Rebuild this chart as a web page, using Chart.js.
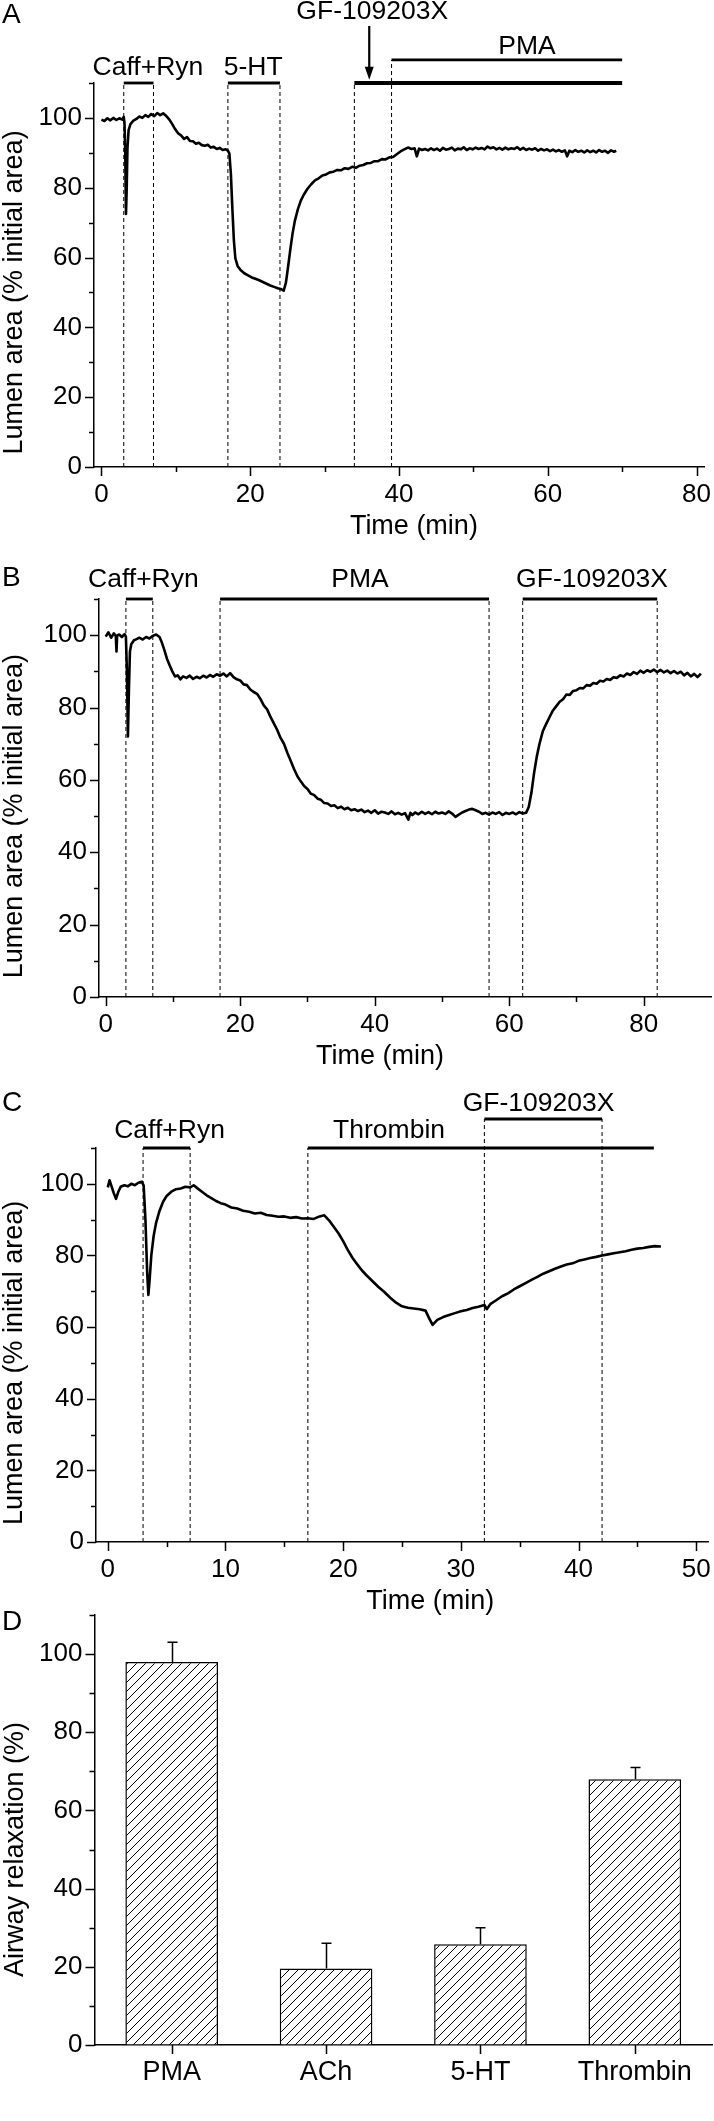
<!DOCTYPE html>
<html><head><meta charset="utf-8">
<script src="https://cdn.jsdelivr.net/npm/chart.js@4.4.1/dist/chart.umd.min.js"></script>
<style>
html,body{margin:0;padding:0;background:#fff;}
#wrap{position:relative;width:714px;height:2121px;overflow:hidden;background:#fff;}
canvas{position:absolute;left:0;top:0;}
</style></head><body>
<div id="wrap">
<canvas id="cA" width="714" height="2121"></canvas>
<canvas id="cB" width="714" height="2121"></canvas>
<canvas id="cC" width="714" height="2121"></canvas>
<canvas id="cD" width="714" height="2121"></canvas>
</div>
<script>
// ---------------- DATA ----------------
// Panel A trace: [time (min), lumen area (% initial)]
const traceA = [[0,99.5],[0.4,99.1],[0.8,99.9],[1.2,99.3],[1.6,100.0],[2.0,99.4],[2.4,99.9],[2.8,99.5],[3.0,100.3],[3.1,98.5],[3.2,90],[3.3,72.5],[3.4,80],[3.5,91.5],[3.65,96.5],[3.9,98.2],[4.3,99.2],[4.7,99.7],[5.1,100.4],[5.5,100.0],[5.9,100.8],[6.3,100.3],[6.7,101.1],[7.1,100.5],[7.5,101.4],[7.9,100.8],[8.3,101.3],[8.7,100.6],[9.1,99.6],[9.5,98.3],[9.9,96.8],[10.3,95.6],[10.7,95.0],[11.1,94.0],[11.5,94.5],[11.9,93.4],[12.3,93.3],[12.7,92.6],[13.1,92.9],[13.5,92.2],[13.9,92.0],[14.3,92.3],[14.7,91.5],[15.1,91.7],[15.5,91.1],[15.9,91.4],[16.3,90.8],[16.7,91.0],[17.0,90.6],[17.2,89.8],[17.4,84],[17.6,74],[17.8,65],[18.0,59.8],[18.3,57.6],[18.7,56.4],[19.2,55.5],[19.7,54.9],[20.2,54.3],[20.7,53.9],[21.2,53.5],[21.7,53.0],[22.2,52.5],[22.7,52.0],[23.2,51.6],[23.7,51.2],[24.2,50.9],[24.5,50.5],[24.8,52.8],[25.1,57.5],[25.4,62.5],[25.7,67],[26.0,70.5],[26.4,73.8],[26.8,76.3],[27.2,78.0],[27.7,79.7],[28.2,81.0],[28.7,82.1],[29.2,82.7],[29.7,83.5],[30.2,83.8],[30.7,84.4],[31.2,84.6],[31.7,85.1],[32.2,85.0],[32.7,85.6],[33.2,85.4],[33.7,86.0],[34.2,85.7],[34.7,86.3],[35.2,86.5],[35.7,87.0],[36.2,87.1],[36.7,87.6],[37.2,87.6],[37.7,88.2],[38.2,88.1],[38.7,88.7],[39.2,88.8],[39.7,89.6],[40.2,90.4],[40.7,91.0],[41.2,91.5],[41.7,91.1],[42.1,91.3],[42.4,89.0],[42.7,91.2],[43.1,90.8],[43.5,91.1],[43.9,90.7],[44.3,91.3],[44.7,90.8],[45.1,91.2],[45.5,90.6],[45.9,91.4],[46.3,90.9],[46.7,91.1],[47.1,91.5],[47.5,90.7],[47.9,91.2],[48.3,91.0],[48.7,91.6],[49.1,90.8],[49.5,91.3],[49.9,91.0],[50.3,91.5],[50.7,91.1],[51.1,91.4],[51.5,91.0],[51.9,91.8],[52.3,91.3],[52.7,91.6],[53.1,91.0],[53.5,91.4],[53.9,90.9],[54.3,91.5],[54.7,91.0],[55.1,91.3],[55.5,91.1],[55.9,91.6],[56.3,90.9],[56.7,91.4],[57.1,90.8],[57.5,91.2],[57.9,90.9],[58.3,91.3],[58.7,90.6],[59.1,91.1],[59.5,90.7],[59.9,91.0],[60.3,90.5],[60.7,90.9],[61.1,90.4],[61.5,90.8],[61.9,90.3],[62.3,90.7],[62.6,89.0],[62.9,90.6],[63.3,90.2],[63.7,90.8],[64.1,90.3],[64.5,90.6],[64.9,90.1],[65.3,90.7],[65.7,90.2],[66.1,90.6],[66.5,90.1],[66.9,90.8],[67.3,90.3],[67.7,90.6],[68.1,90.0],[68.5,90.7],[68.9,90.3],[69.2,90.6]];

// Panel B trace
const traceB = [[0,99.6],[0.4,100.8],[0.8,99.3],[1.2,100.5],[1.5,99.8],[1.6,95.5],[1.7,99.9],[2.0,100.2],[2.4,99.5],[2.8,100.3],[3.0,99.6],[3.15,90],[3.3,72],[3.45,85],[3.6,95.5],[3.8,97.5],[4.2,98.6],[4.6,98.9],[5.0,99.3],[5.5,98.8],[6.0,99.5],[6.5,99.1],[7.0,99.8],[7.5,100.2],[8.0,99.5],[8.3,98.2],[8.7,96],[9.1,93.5],[9.5,91.7],[9.9,90.0],[10.3,88.6],[10.7,88.9],[11.1,87.8],[11.5,88.6],[12.0,88.2],[12.5,88.8],[13.0,87.9],[13.5,88.5],[14.0,88.1],[14.5,88.8],[15.0,88.3],[15.5,89.0],[16.0,88.5],[16.5,89.2],[17.0,88.8],[17.5,89.4],[18.0,88.6],[18.5,89.5],[19.0,88.4],[19.5,87.8],[20.0,87.5],[20.5,86.4],[21.0,86.2],[21.5,85.0],[22.0,84.3],[22.5,83.8],[23.0,82.4],[23.5,80.6],[24.0,79.5],[24.5,77.4],[25.0,75.6],[25.5,73.8],[26.0,71.6],[26.5,70.0],[27.0,67.5],[27.5,65.3],[28.0,63.0],[28.5,61.0],[29.0,59.6],[29.5,58.3],[30.0,57.5],[30.5,56.2],[31.0,55.8],[31.5,54.8],[32.0,54.5],[32.5,53.6],[33.0,53.5],[33.5,52.8],[34.0,53.0],[34.5,52.2],[35.0,52.6],[35.5,51.9],[36.0,52.3],[36.5,51.6],[37.0,51.9],[37.5,51.4],[38.0,51.8],[38.5,51.1],[39.0,51.5],[39.5,50.9],[40.0,51.6],[40.5,50.7],[41.0,51.2],[41.5,51.0],[42.0,50.6],[42.5,51.3],[43.0,50.5],[43.5,50.9],[44.0,50.4],[44.5,50.8],[45.0,49.0],[45.3,50.9],[45.6,50.3],[46.0,51.0],[46.5,50.5],[47.0,51.2],[47.5,50.6],[48.0,51.1],[48.5,50.5],[49.0,51.2],[49.5,50.7],[50.0,51.0],[50.5,50.6],[51.0,51.3],[51.5,50.7],[52.0,49.8],[52.5,50.4],[53.0,51.0],[53.5,51.4],[54.0,51.8],[54.5,52.0],[55.0,51.6],[55.5,51.2],[56.0,50.6],[56.5,50.9],[57.0,50.4],[57.5,51.0],[58.0,50.6],[58.5,51.1],[59.0,50.3],[59.5,50.9],[60.0,50.6],[60.5,51.0],[61.0,50.5],[61.5,51.1],[62.0,50.7],[62.5,50.9],[62.9,52.5],[63.3,56.5],[63.7,62],[64.1,66.5],[64.5,70.0],[65.0,73.5],[65.5,75.5],[66.0,77.4],[66.5,79.2],[67.0,80.4],[67.5,81.6],[68.0,82.3],[68.5,83.6],[69.0,83.5],[69.5,84.6],[70.0,84.8],[70.5,85.4],[71.0,85.3],[71.5,86.2],[72.0,86.0],[72.5,86.8],[73.0,86.6],[73.5,87.4],[74.0,87.2],[74.5,87.9],[75.0,87.6],[75.5,88.4],[76.0,88.2],[76.5,88.9],[77.0,88.6],[77.5,89.4],[78.0,89.0],[78.5,89.8],[79.0,89.3],[79.5,90.2],[80.0,89.6],[80.5,90.3],[81.0,89.9],[81.5,90.5],[82.0,89.8],[82.5,90.4],[83.0,89.7],[83.5,90.2],[84.0,89.5],[84.5,90.1],[85.0,89.4],[85.5,89.9],[86.0,88.9],[86.5,89.6],[87.0,88.6],[87.5,89.3],[88.0,88.4],[88.5,89.4]];

// Panel C trace
const traceC = [[0,99.0],[0.15,101],[0.3,99.5],[0.5,97.5],[0.7,95.8],[0.9,97.8],[1.1,99.2],[1.4,99.6],[1.7,99.3],[2.0,100.0],[2.3,99.6],[2.6,100.3],[2.9,100.6],[3.05,99.5],[3.2,90],[3.35,75],[3.45,69],[3.55,73],[3.7,80],[3.9,85.5],[4.1,89.0],[4.4,92.5],[4.7,95.0],[5.0,96.6],[5.4,97.8],[5.8,98.5],[6.2,98.7],[6.6,99.2],[7.0,99.0],[7.3,99.6],[7.6,98.8],[8.0,97.8],[8.4,96.8],[8.8,96.0],[9.2,95.2],[9.6,94.6],[10.0,94.2],[10.5,93.4],[11.0,93.1],[11.5,92.5],[12.0,92.2],[12.5,91.7],[13.0,91.9],[13.5,91.3],[14.0,91.1],[14.5,90.8],[15.0,90.9],[15.5,90.5],[16.0,90.7],[16.5,90.3],[17.0,90.4],[17.5,90.2],[18.0,90.9],[18.4,91.2],[18.8,89.8],[19.2,88.0],[19.6,86.2],[20.0,84.0],[20.4,81.5],[20.8,79.3],[21.2,77.5],[21.6,75.8],[22.0,74.4],[22.5,72.8],[23.0,71.2],[23.5,69.8],[24.0,68.2],[24.5,66.8],[25.0,65.8],[25.5,65.4],[26.0,65.2],[26.5,65.0],[27.0,64.6],[27.3,62.5],[27.6,60.6],[28.0,62.0],[28.5,62.8],[29.0,63.4],[29.5,63.9],[30.0,64.4],[30.5,64.8],[31.0,65.3],[31.5,65.7],[32.0,66.2],[32.2,65.0],[32.5,66.4],[33.0,67.5],[33.5,68.6],[34.0,69.4],[34.5,70.5],[35.0,71.4],[35.5,72.3],[36.0,73.2],[36.5,74.0],[37.0,74.9],[37.5,75.6],[38.0,76.3],[38.5,76.9],[39.0,77.5],[39.5,77.8],[40.0,78.5],[40.5,78.9],[41.0,79.3],[41.5,79.6],[42.0,80.0],[42.5,80.3],[43.0,80.6],[43.5,80.9],[44.0,81.2],[44.5,81.6],[45.0,81.9],[45.5,82.1],[46.0,82.4],[46.5,82.6],[47.0,82.5]];

// Treatment periods (min)
const treatNamesA = ['Caff+Ryn','5-HT','GF-109203X','PMA'];
const treatStartA = [3,17,34,39];
const treatEndA   = [7,24,70,70];
const treatOpenA  = [false,false,true,true];

const treatNamesB = ['Caff+Ryn','PMA','GF-109203X'];
const treatStartB = [3,17,62];
const treatEndB   = [7,57,82];
const treatOpenB  = [false,false,false];

const treatNamesC = ['Caff+Ryn','Thrombin','GF-109203X'];
const treatStartC = [3,17,32];
const treatEndC   = [7,46.4,42];
const treatOpenC  = [false,true,false];

// Tick values
const yTicks = [0,10,20,30,40,50,60,70,80,90,100,110];
const yLabels = [0,20,40,60,80,100];
const xTicksA = [0,10,20,30,40,50,60,70,80];
const xLabelsA = [0,20,40,60,80];
const xTicksB = [0,10,20,30,40,50,60,70,80];
const xLabelsB = [0,20,40,60,80];
const xTicksC = [0,5,10,15,20,25,30,35,40,45,50];
const xLabelsC = [0,10,20,30,40,50];

// Panel D bars
const barCategories = ['PMA','ACh','5-HT','Thrombin'];
const barValues = [98, 19.6, 25.8, 68];
const barErrors = [5, 6.4, 4.2, 3];

// ---------------- RENDER ----------------
const FONT = '"Liberation Sans", Arial, Helvetica, sans-serif';
const TICKF = 26, TITLEF = 27, ANNF = 26.5, LETTERF = 28, CATF = 27;

function txt(ctx, s, x, y, size, align){
  ctx.save();
  ctx.font = size + 'px ' + FONT;
  ctx.fillStyle = '#000';
  ctx.textAlign = align || 'center';
  ctx.textBaseline = 'middle';
  ctx.fillText(s, x, y);
  ctx.restore();
}

function decoPlugin(deco){
  return {
    id: 'deco',
    afterDraw(chart){
      const ctx = chart.ctx, xs = chart.scales.x, ys = chart.scales.y, a = chart.chartArea;
      ctx.save();
      ctx.strokeStyle = '#000'; ctx.lineWidth = 1.5;
      // tick marks
      ctx.beginPath();
      deco.xTicks.forEach(v => {
        const px = Math.round(xs.getPixelForValue(v)) + 0.5;
        const len = deco.xLabels.includes(v) ? 9 : 5;
        ctx.moveTo(px, a.bottom); ctx.lineTo(px, a.bottom + len);
      });
      yTicks.forEach(v => {
        const py = Math.round(ys.getPixelForValue(v)) + 0.5;
        const len = yLabels.includes(v) ? 9 : 5;
        ctx.moveTo(a.left, py); ctx.lineTo(a.left - len, py);
      });
      ctx.stroke();
      ctx.restore();
      // panel letter
      txt(ctx, deco.letter, 2, deco.letterY, LETTERF, 'left');
      // y title centred on value 50
      ctx.save();
      ctx.translate(deco.yTitleX, ys.getPixelForValue(50));
      ctx.rotate(-Math.PI/2);
      txt(ctx, deco.yTitle, 0, 0, TITLEF, 'center');
      ctx.restore();
      // x title
      if (deco.xTitle) txt(ctx, deco.xTitle, xs.getPixelForValue(deco.xTitleAt), a.bottom + 60, TITLEF, 'center');
      // annotation labels
      (deco.labels || []).forEach(l => txt(ctx, l.text, xs.getPixelForValue(l.x), ys.getPixelForValue(l.y), ANNF, 'center'));
      // arrow heads
      (deco.arrows || []).forEach(ar => {
        const px = xs.getPixelForValue(ar.x), tip = ys.getPixelForValue(ar.y1);
        ctx.save(); ctx.fillStyle = '#000'; ctx.beginPath();
        ctx.moveTo(px, tip); ctx.lineTo(px - 4.5, tip - 13); ctx.lineTo(px + 4.5, tip - 13); ctx.closePath();
        ctx.fill(); ctx.restore();
      });
      // error bars
      if (deco.errors) {
        const meta = chart.getDatasetMeta(0);
        ctx.save(); ctx.strokeStyle = '#000'; ctx.lineWidth = 1.5; ctx.beginPath();
        meta.data.forEach((bar, i) => {
          const top = ys.getPixelForValue(barValues[i] + barErrors[i]);
          const x = Math.round(bar.x) + 0.5;
          ctx.moveTo(x, bar.y); ctx.lineTo(x, top);
          ctx.moveTo(x - 5, top); ctx.lineTo(x + 5, top);
        });
        ctx.stroke(); ctx.restore();
      }
    }
  };
}

function axisCommon(){
  return {
    border: {display: true, color: '#000', width: 1.5},
    grid: {display: true, drawOnChartArea: false, drawTicks: false},
  };
}

function buildTrace(id, geom, trace, tr, deco){
  const datasets = [];
  datasets.push({
    data: trace.map(p => ({x: p[0], y: p[1]})),
    showLine: true, borderColor: '#000', borderWidth: 2.6, pointRadius: 0, tension: 0,
    borderJoinStyle: 'round'
  });
  tr.names.forEach((n, i) => {
    const lv = deco.levels[i];
    datasets.push({data: [{x: tr.start[i], y: lv}, {x: tr.end[i], y: lv}], showLine: true,
      borderColor: '#000', borderWidth: deco.widths[i], pointRadius: 0, clip: false, borderCapStyle: 'butt'});
    const d = [tr.start[i]];
    if (!tr.open[i]) d.push(tr.end[i]);
    d.forEach(t => datasets.push({data: [{x: t, y: 0}, {x: t, y: lv}], showLine: true,
      borderColor: '#000', borderWidth: 1, borderDash: [4, 3], pointRadius: 0, clip: false}));
  });
  (deco.arrows || []).forEach(ar => {
    datasets.push({data: [{x: ar.x, y: ar.y0}, {x: ar.x, y: ar.y1 + 2.5}], showLine: true, borderColor: '#000',
      borderWidth: 2.2, pointRadius: 0, clip: false, borderCapStyle: 'butt'});
  });
  const xAxisH = 40;
  const xa = Object.assign(axisCommon(), {
    type: 'linear', min: geom.xMin, max: geom.xMax,
    afterBuildTicks: s => { s.ticks = deco.xTicks.map(v => ({value: v})); },
    afterFit: s => { s.height = xAxisH; s.paddingLeft = 0; s.paddingRight = 0; },
    ticks: {autoSkip: false, maxRotation: 0, padding: 12, color: '#000', font: {family: FONT, size: TICKF},
      callback: v => deco.xLabels.includes(v) ? String(v) : ''}
  });
  const ya = Object.assign(axisCommon(), {
    type: 'linear', min: 0, max: 110,
    afterBuildTicks: s => { s.ticks = yTicks.map(v => ({value: v})); },
    afterFit: s => { s.width = geom.left; s.paddingTop = 0; s.paddingBottom = 0; },
    ticks: {autoSkip: false, padding: 12, color: '#000', font: {family: FONT, size: TICKF},
      callback: v => yLabels.includes(v) ? String(v) : ''}
  });
  return new Chart(document.getElementById(id), {
    type: 'scatter',
    data: {datasets},
    options: {
      responsive: false, animation: false, devicePixelRatio: 1,
      layout: {padding: {left: 0, top: geom.top, right: 714 - geom.right, bottom: 2121 - geom.bottom - xAxisH}},
      plugins: {legend: {display: false}, tooltip: {enabled: false}},
      scales: {x: xa, y: ya}
    },
    plugins: [decoPlugin(deco)]
  });
}

buildTrace('cA', {left: 94, right: 704, top: 83, bottom: 467, xMin: -1, xMax: 81}, traceA,
  {names: treatNamesA, start: treatStartA, end: treatEndA, open: treatOpenA},
  {letter: 'A', letterY: 15, yTitle: 'Lumen area (% initial area)', yTitleX: 15,
   xTitle: 'Time (min)', xTitleAt: 42, xTicks: xTicksA, xLabels: xLabelsA,
   levels: [110, 110, 110, 116.6], widths: [2.8, 2.8, 4.2, 2.8],
   labels: [{text: 'Caff+Ryn', x: 6.25, y: 114.3}, {text: '5-HT', x: 20.4, y: 114.3},
            {text: 'PMA', x: 57.2, y: 120.4}, {text: 'GF-109203X', x: 36.4, y: 130.4}],
   arrows: [{x: 36.0, y0: 126.3, y1: 110.9}]});

buildTrace('cB', {left: 99, right: 711, top: 599, bottom: 997, xMin: -1, xMax: 90}, traceB,
  {names: treatNamesB, start: treatStartB, end: treatEndB, open: treatOpenB},
  {letter: 'B', letterY: 578, yTitle: 'Lumen area (% initial area)', yTitleX: 15,
   xTitle: 'Time (min)', xTitleAt: 40.8, xTicks: xTicksB, xLabels: xLabelsB,
   levels: [110, 110, 110], widths: [2.8, 2.8, 2.8],
   labels: [{text: 'Caff+Ryn', x: 5.6, y: 115.2}, {text: 'PMA', x: 37.8, y: 115.2},
            {text: 'GF-109203X', x: 72.3, y: 115.2}]});

buildTrace('cC', {left: 96, right: 708, top: 1148, bottom: 1542, xMin: -1, xMax: 51}, traceC,
  {names: treatNamesC, start: treatStartC, end: treatEndC, open: treatOpenC},
  {letter: 'C', letterY: 1103, yTitle: 'Lumen area (% initial area)', yTitleX: 15,
   xTitle: 'Time (min)', xTitleAt: 27.4, xTicks: xTicksC, xLabels: xLabelsC,
   levels: [110, 110, 118.1], widths: [2.8, 2.8, 2.8],
   labels: [{text: 'Caff+Ryn', x: 5.25, y: 114.9}, {text: 'Thrombin', x: 23.9, y: 114.9},
            {text: 'GF-109203X', x: 36.6, y: 122.5}]});

// Panel D
function hatch(){
  const s = 9, c = document.createElement('canvas'); c.width = s; c.height = s;
  const g = c.getContext('2d');
  g.fillStyle = '#fff'; g.fillRect(0, 0, s, s);
  g.strokeStyle = '#000'; g.lineWidth = 1;
  g.beginPath();
  g.moveTo(-1, s + 1); g.lineTo(s + 1, -1);
  g.moveTo(-1, 1); g.lineTo(1, -1);
  g.moveTo(s - 1, s + 1); g.lineTo(s + 1, s - 1);
  g.stroke();
  return g.createPattern(c, 'repeat');
}
(function(){
  const geom = {left: 94.5, right: 712, top: 1615, bottom: 2045};
  const xAxisH = 40;
  const deco = {letter: 'D', letterY: 1622, yTitle: 'Airway relaxation (%)', yTitleX: 16,
    xTicks: [0, 1, 2, 3], xLabels: [0, 1, 2, 3], errors: true};
  const xa = Object.assign(axisCommon(), {
    type: 'category', offset: true,
    afterFit: s => { s.height = xAxisH; s.paddingLeft = 0; s.paddingRight = 0; },
    ticks: {autoSkip: false, maxRotation: 0, padding: 11, color: '#000', font: {family: FONT, size: CATF}}
  });
  const ya = Object.assign(axisCommon(), {
    type: 'linear', min: 0, max: 110,
    afterBuildTicks: s => { s.ticks = yTicks.map(v => ({value: v})); },
    afterFit: s => { s.width = geom.left; s.paddingTop = 0; s.paddingBottom = 0; },
    ticks: {autoSkip: false, padding: 12, color: '#000', font: {family: FONT, size: TICKF},
      callback: v => yLabels.includes(v) ? String(v) : ''}
  });
  new Chart(document.getElementById('cD'), {
    type: 'bar',
    data: {labels: barCategories, datasets: [{data: barValues, backgroundColor: hatch(),
      borderColor: '#000', borderWidth: 1.5, borderSkipped: 'start',
      barPercentage: 0.6, categoryPercentage: 1.0}]},
    options: {
      responsive: false, animation: false, devicePixelRatio: 1,
      layout: {padding: {left: 0, top: geom.top, right: 714 - geom.right, bottom: 2121 - geom.bottom - xAxisH}},
      plugins: {legend: {display: false}, tooltip: {enabled: false}},
      scales: {x: xa, y: ya}
    },
    plugins: [decoPlugin(deco)]
  });
})();
</script>
</body></html>
